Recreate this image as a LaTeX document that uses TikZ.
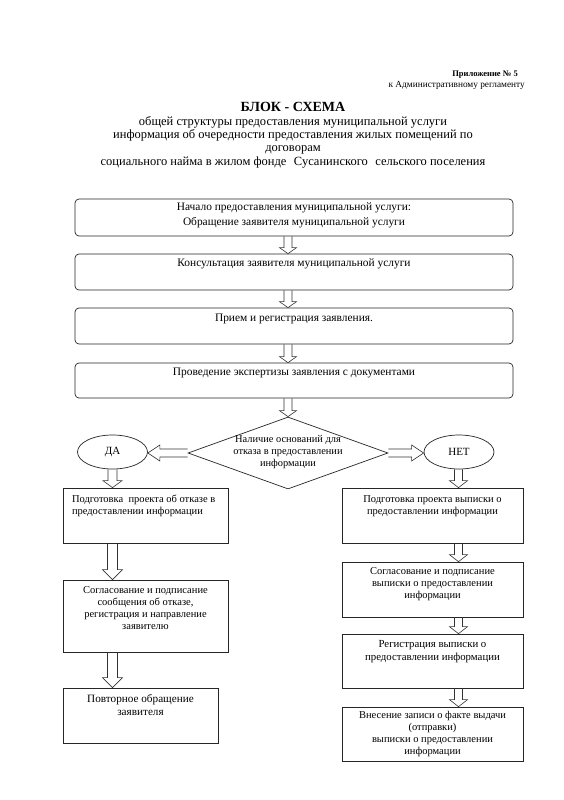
\documentclass[tikz,border=0pt]{standalone}
\usepackage{fontspec}
\setmainfont{Liberation Serif}
\usetikzlibrary{shapes.geometric,calc}
\newcommand\boxtext[5]{\parbox[c][#2][t]{#1}{#4\vspace*{#3}\strut#5\strut\par}}
% vertical block arrow: shaft half, head half, head length, x-ref, from, to
\newcommand\varr[6]{\draw[blk] let \p1=(#5.south -| #4), \p2=(#6.north -| #4) in
  (\x1-#1pt,\y1) -- (\x1-#1pt,\y2+#3pt) -- (\x1-#2pt,\y2+#3pt) -- (\x2,\y2)
  -- (\x1+#2pt,\y2+#3pt) -- (\x1+#1pt,\y2+#3pt) -- (\x1+#1pt,\y1);}
% horizontal block arrow: from point, to point, sign (+ for leftward, - for rightward)
\newcommand\harr[3]{\draw[blk] let \p1=(#1), \p2=(#2) in
  (\x1,\y1+4pt) -- (\x2#3 12pt,\y1+4pt) -- (\x2#3 12pt,\y1+8pt) -- (\x2,\y1)
  -- (\x2#3 12pt,\y1-8pt) -- (\x2#3 12pt,\y1-4pt) -- (\x1,\y1-4pt);}
\begin{document}
\begin{tikzpicture}[x=1pt,y=-1pt,
  rbox/.style={draw=black!85, line width=0.7pt, rounded corners=4pt, inner sep=0pt},
  sbox/.style={draw=black!85, line width=0.7pt, inner sep=0pt},
  blk/.style={draw=black!80, line width=0.6pt, line join=miter},
  oval/.style={draw=black!85, line width=0.7pt, ellipse, inner sep=0pt, minimum width=70pt, minimum height=34pt, font=\fontsize{11}{13}\selectfont},
  ttl/.style={inner sep=0pt, align=center}]
\fill[white] (0,0) rectangle (564,800);
\useasboundingbox (0,0) rectangle (564,800);

% header
\node[anchor=base east, inner sep=0pt, font=\fontsize{8.5}{10}\selectfont\bfseries] (app1) at (518,76) {Приложение № 5};
\node[anchor=base east, inner sep=0pt, font=\fontsize{9.3}{11}\selectfont] (app2) at (525,88) {к Административному регламенту};
\node[ttl, font=\fontsize{14}{16}\selectfont\bfseries] (head) at (293,107) {БЛОК - СХЕМА};
\node[ttl, font=\fontsize{12.5}{13.4}\selectfont] (sub) at (293,142)
  {общей структуры предоставления муниципальной услуги\\
   информация об очередности предоставления жилых помещений по\\
   договорам\\
   социального найма в жилом фонде\hspace{0.6em}Сусанинского\hspace{0.6em}сельского поселения};

% x references
\coordinate (cx) at (288,0);
\coordinate (lx) at (112.5,0);
\coordinate (rx) at (458.5,0);

% top boxes
\node[rbox] (b1) at (294,217.5) {\boxtext{438pt}{37pt}{1pt}{\centering\fontsize{11.4}{15}\selectfont}{Начало предоставления муниципальной услуги:\\Обращение заявителя муниципальной услуги}};
\node[rbox] (b2) at (294,272) {\boxtext{438pt}{36pt}{2pt}{\centering\fontsize{11.4}{15}\selectfont}{Консультация заявителя муниципальной услуги}};
\node[rbox] (b3) at (294,326) {\boxtext{438pt}{36pt}{2.5pt}{\centering\fontsize{11.4}{15}\selectfont}{Прием и регистрация заявления.}};
\node[rbox] (b4) at (294,380.5) {\boxtext{438pt}{35pt}{2pt}{\centering\fontsize{11.4}{15}\selectfont}{Проведение экспертизы заявления с документами}};

% decision
\node[draw=black!85, line width=0.7pt, diamond, inner sep=0pt, minimum width=200pt, minimum height=72pt] (dec) at (288,453)
  {\raisebox{-3pt}{\smash{\makebox[0pt]{\parbox[c]{120pt}{\centering\fontsize{10.4}{12}\selectfont Наличие оснований для\\отказа в предоставлении\\информации}}}}};
\node[oval] (da) at (112.5,452) {ДА};
\node[oval] (net) at (459,452) {НЕТ};

% left column
\node[sbox] (l1) at (145.5,515.5) {\boxtext{165pt}{55pt}{6pt}{\raggedright\leftskip=9pt\fontsize{10.5}{12}\selectfont}{Подготовка\ \ проекта об отказе в\\предоставлении информации}};
\node[sbox] (l2) at (145.5,616) {\boxtext{165pt}{72pt}{5pt}{\centering\fontsize{10.5}{12}\selectfont}{Согласование и подписание\\сообщения об отказе,\\регистрация и направление\\заявителю}};
\node[sbox] (l3) at (140.5,715.5) {\boxtext{155pt}{55pt}{5.5pt}{\centering\fontsize{11.2}{13}\selectfont}{Повторное обращение\\заявителя}};

% right column
\node[sbox] (r1) at (432.5,515.5) {\boxtext{181pt}{55pt}{6pt}{\centering\fontsize{10.5}{12}\selectfont}{Подготовка проекта выписки о\\предоставлении информации}};
\node[sbox] (r2) at (432.5,589.5) {\boxtext{181pt}{55pt}{4pt}{\centering\fontsize{10.5}{12}\selectfont}{Согласование и подписание\\выписки о предоставлении\\информации}};
\node[sbox] (r3) at (432.5,661) {\boxtext{181pt}{54pt}{4pt}{\centering\fontsize{10.8}{13}\selectfont}{Регистрация выписки о\\предоставлении информации}};
\node[sbox] (r4) at (432.5,734) {\boxtext{181pt}{54pt}{3pt}{\centering\fontsize{10.5}{12}\selectfont}{Внесение записи о факте выдачи\\(отправки)\\выписки о предоставлении\\информации}};

% arrows, main column
\varr{4}{8.5}{6}{cx}{b1}{b2}
\varr{4}{8.5}{6}{cx}{b2}{b3}
\varr{4}{8.5}{6}{cx}{b3}{b4}
\varr{4}{8.5}{6}{cx}{b4}{dec}
% branches
\harr{dec.west}{da.east}{+}
\harr{dec.east}{net.west}{-}
% left column
\varr{4.5}{9.5}{7}{lx}{da}{l1}
\varr{5}{10}{10}{lx}{l1}{l2}
\varr{5}{10}{10}{lx}{l2}{l3}
% right column
\varr{4}{9}{7}{rx}{net}{r1}
\varr{4}{9}{7}{rx}{r1}{r2}
\varr{4}{9}{7}{rx}{r2}{r3}
\varr{4}{9}{7}{rx}{r3}{r4}
\end{tikzpicture}
\end{document}
